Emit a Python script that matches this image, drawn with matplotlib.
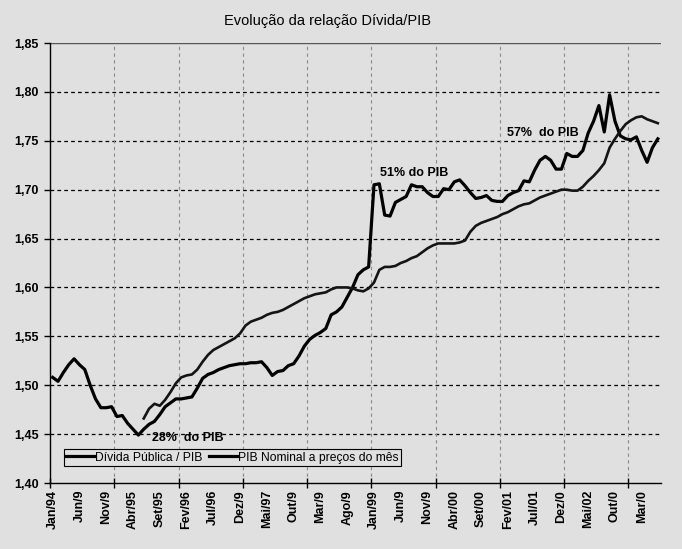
import numpy as np
import matplotlib
matplotlib.use("Agg")
import matplotlib.pyplot as plt

# ---- data (monthly, Jan/94 .. Jun/03) ----
divida = [1.508, 1.504, 1.513, 1.521, 1.527, 1.521, 1.516, 1.500, 1.486, 1.477,
          1.477, 1.478, 1.468, 1.469, 1.461, 1.455, 1.449, 1.455, 1.460, 1.463,
          1.470, 1.478, 1.482, 1.486, 1.486, 1.487, 1.488, 1.497, 1.507, 1.511,
          1.513, 1.516, 1.518, 1.520, 1.521, 1.522, 1.522, 1.523, 1.523, 1.524,
          1.518, 1.510, 1.514, 1.515, 1.520, 1.522, 1.530, 1.540, 1.547, 1.551,
          1.554, 1.558, 1.572, 1.575, 1.580, 1.590, 1.600, 1.613, 1.618, 1.621,
          1.705, 1.706, 1.674, 1.673, 1.687, 1.690, 1.693, 1.705, 1.703, 1.703,
          1.697, 1.693, 1.693, 1.701, 1.700, 1.708, 1.710, 1.704, 1.697, 1.691,
          1.692, 1.694, 1.689, 1.688, 1.688, 1.694, 1.697, 1.699, 1.709, 1.708,
          1.720, 1.730, 1.734, 1.730, 1.721, 1.721, 1.737, 1.734, 1.734, 1.740,
          1.758, 1.770, 1.786, 1.759, 1.797, 1.770, 1.755, 1.752, 1.751, 1.754,
          1.740, 1.728, 1.743, 1.752]

pib_nominal = [np.nan] * 17 + [
          1.466, 1.476, 1.481, 1.479, 1.485, 1.493, 1.502, 1.508, 1.510, 1.511,
          1.516, 1.524, 1.531, 1.536, 1.539, 1.542, 1.545, 1.548, 1.553, 1.561,
          1.565, 1.567, 1.569, 1.572, 1.574, 1.575, 1.577, 1.580, 1.583, 1.586,
          1.589, 1.591, 1.593, 1.594, 1.595, 1.598, 1.600, 1.600, 1.600, 1.599,
          1.597, 1.596, 1.599, 1.605, 1.618, 1.621, 1.621, 1.622, 1.625, 1.627,
          1.630, 1.632, 1.636, 1.640, 1.643, 1.645, 1.645, 1.645, 1.645, 1.646,
          1.648, 1.657, 1.663, 1.666, 1.668, 1.670, 1.672, 1.675, 1.677, 1.680,
          1.683, 1.685, 1.686, 1.689, 1.692, 1.694, 1.696, 1.698, 1.700, 1.700,
          1.699, 1.699, 1.703, 1.709, 1.714, 1.720, 1.727, 1.743, 1.752, 1.760,
          1.767, 1.771, 1.774, 1.775, 1.772, 1.770, 1.768]

tick_labels = ["Jan/94", "Jun/9", "Nov/9", "Abr/95", "Set/95", "Fev/96", "Jul/96",
               "Dez/9", "Mai/97", "Out/9", "Mar/9", "Ago/9", "Jan/99", "Jun/9",
               "Nov/9", "Abr/00", "Set/00", "Fev/01", "Jul/01", "Dez/0", "Mai/02",
               "Out/0", "Mar/0"]

series_names = ["Dívida Pública / PIB", "PIB Nominal a preços do mês"]
annotations = [("28%  do PIB", 25.3, 1.446), ("51% do PIB", 67.5, 1.717),
               ("57%  do PIB", 91.6, 1.758)]
title = "Evolução da relação Dívida/PIB"

# ---- figure ----
BG = "#E0E0E0"
plt.rcParams['font.family'] = ['Liberation Sans', 'DejaVu Sans']
fig = plt.figure(figsize=(6.82, 5.49), dpi=100, facecolor=BG)
ax = fig.add_axes([50/682, 1-483/549, 610.5/682, 440/549])
ax.set_facecolor(BG)

n = len(divida)
x = np.arange(n)

ax.set_xlim(-0.5, n - 0.5)
ax.set_ylim(1.40, 1.85)

# grid lines
yt = np.round(np.arange(1.40, 1.851, 0.05), 2)
for v in yt[1:-1]:
    ax.axhline(v, color="black", lw=0.9, ls=(0, (3, 2.5)), zorder=1)
ax.axhline(1.85, color="#555555", lw=1.0, zorder=1)
major = np.arange(-0.5, n, 12)
for m in major[1:]:
    ax.axvline(m, color="#8a8a8a", lw=0.8, ls=(0, (3, 3)), zorder=1)

l1, = ax.plot(x, divida, color="black", lw=2.3, zorder=3, solid_joinstyle="round")
l2, = ax.plot(x, pib_nominal, color="#141414", lw=1.9, zorder=3, solid_joinstyle="round")

# axes styling
for s in ["top", "right"]:
    ax.spines[s].set_visible(False)
ax.spines["left"].set_linewidth(1.0)
ax.spines["bottom"].set_linewidth(1.0)

ax.set_yticks(yt)
ax.set_yticklabels([f"{v:.2f}".replace(".", ",") for v in yt],
                   fontsize=9, fontweight="bold")
ax.tick_params(axis="y", direction="out", length=4, width=1, pad=4)

ax.set_xticks(major)
ax.set_xticklabels([])
ax.tick_params(axis="x", which="major", direction="inout", length=7, width=1)
ax.set_xticks(np.arange(0, n, 5), minor=True)
ax.set_xticklabels(tick_labels, minor=True, rotation=90, fontsize=9,
                   fontweight="bold")
ax.tick_params(axis="x", which="minor", length=0, pad=5)

for txt, xi, yv in annotations:
    ax.text(xi, yv, txt, ha="center", va="center", fontsize=9,
            fontweight="bold", zorder=4)

leg = ax.legend([l1, l2], series_names, loc="lower left",
                bbox_to_anchor=(14/610.5, 17/440), ncol=2, frameon=True,
                fancybox=False, edgecolor="black", facecolor=BG, framealpha=1,
                fontsize=8.7, handlelength=2.3, handletextpad=0.1,
                columnspacing=0.5, borderpad=0.2, borderaxespad=0)
leg.get_frame().set_linewidth(0.8)
for h in leg.get_lines():
    h.set_color("black")
    h.set_linewidth(2.3)

fig.text(328/682, 1-21/549, title, ha="center", va="center", fontsize=10.5)

fig.savefig("out.png", dpi=100, facecolor=BG)
